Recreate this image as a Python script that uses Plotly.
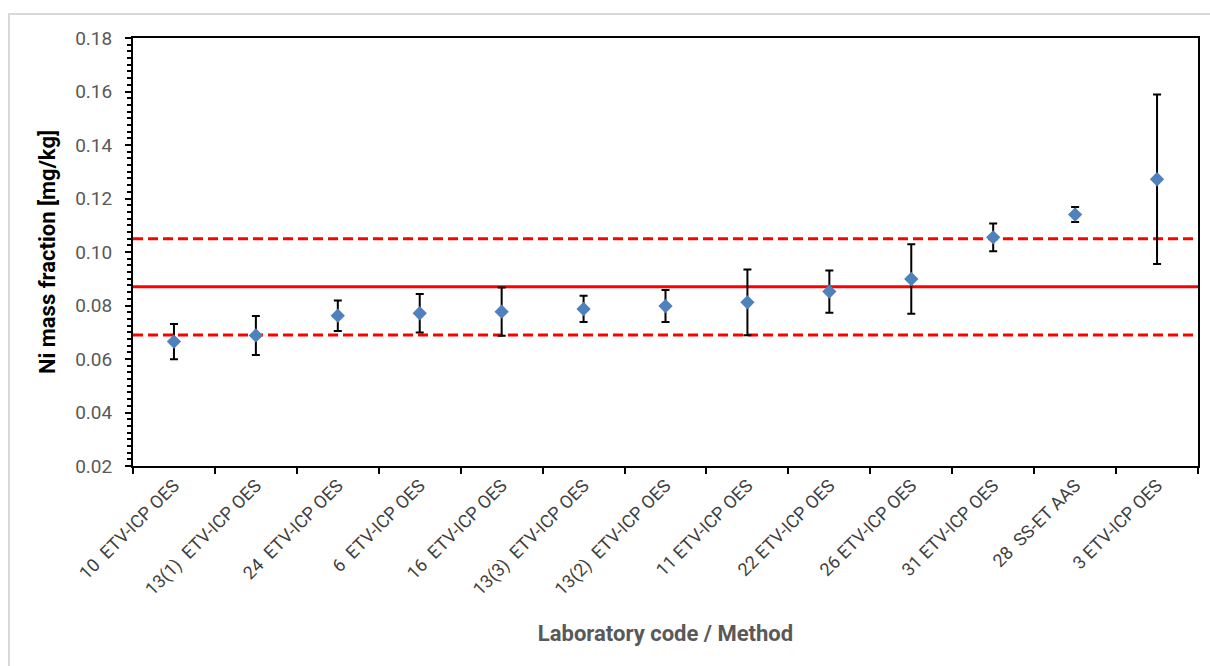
import plotly.graph_objects as go

# ---- data ----
labs = ["10\u00a0\u00a0ETV-ICP OES", "13(1)\u00a0\u00a0ETV-ICP OES", "24\u00a0\u00a0ETV-ICP OES",
        "6\u00a0\u00a0ETV-ICP OES", "16\u00a0\u00a0ETV-ICP OES", "13(3)\u00a0\u00a0ETV-ICP OES",
        "13(2)\u00a0\u00a0ETV-ICP OES", "11 ETV-ICP OES", "22 ETV-ICP OES", "26 ETV-ICP OES",
        "31 ETV-ICP OES", "28\u00a0\u00a0SS-ET AAS", "3 ETV-ICP OES"]
values = [0.0665, 0.0688, 0.0762, 0.0771, 0.0777, 0.0787, 0.0798,
          0.0812, 0.0852, 0.0899, 0.1055, 0.1140, 0.1272]
uncert = [0.0066, 0.0073, 0.0057, 0.0072, 0.0090, 0.0049, 0.0060,
          0.0123, 0.0079, 0.0130, 0.0052, 0.0028, 0.0317]
assigned = 0.087
limit_low = 0.069
limit_high = 0.105

y_range = [0.02, 0.18]
y_ticks = [0.02, 0.04, 0.06, 0.08, 0.10, 0.12, 0.14, 0.16, 0.18]

W, H = 1210, 666
L, R, T, B = 133, 12, 38, 200
pw, ph = W - L - R, H - T - B

def px_x(p):
    return (p - L) / pw

def px_y(p):
    return (H - B - p) / ph

fig = go.Figure()

fig.add_trace(go.Scatter(
    x=labs, y=values, mode="markers",
    marker=dict(symbol="diamond", size=11, color="#4F81BD"),
    error_y=dict(type="data", array=uncert, visible=True, color="black",
                 thickness=2, width=4),
    showlegend=False,
))

# reference lines
for yv, dash in [(assigned, "solid"), (limit_low, "10px,5px"), (limit_high, "10px,5px")]:
    fig.add_shape(type="line", xref="paper", x0=0, x1=1, yref="y", y0=yv, y1=yv,
                  line=dict(color="#FF0000", width=3, dash=dash), layer="below")

# outer chart border
fig.add_shape(type="rect", xref="paper", yref="paper",
              x0=px_x(9), x1=px_x(1240), y0=px_y(14), y1=px_y(700),
              line=dict(color="#D9D9D9", width=2), layer="below")

font_fam = "Roboto, 'Open Sans', sans-serif"

fig.update_layout(
    width=W, height=H,
    margin=dict(l=L, r=R, t=T, b=B, autoexpand=False),
    paper_bgcolor="white", plot_bgcolor="white",
    font=dict(family=font_fam, color="#595959"),
    xaxis=dict(
        type="category", range=[-0.5, len(labs) - 0.5],
        tickson="boundaries", ticks="outside", ticklen=6,
        tickwidth=2, tickcolor="black", tickangle=-45,
        tickfont=dict(size=18, color="#404040"),
        showline=True, linecolor="black", linewidth=2, mirror=True,
        showgrid=False, zeroline=False, automargin=False,
        title=dict(text="<b>Laboratory code / Method</b>",
                   font=dict(size=22, color="#595959"), standoff=27),
    ),
    yaxis=dict(
        range=y_range, tickvals=y_ticks, ticktext=[f"{v:.2f}" for v in y_ticks],
        ticks="outside", ticklen=6, tickwidth=2, tickcolor="black",
        tickfont=dict(size=19, color="#595959"), ticklabelstandoff=9,
        minor=dict(dtick=0.0025, ticks="outside", ticklen=4, tickwidth=2,
                   tickcolor="black", showgrid=False),
        showline=True, linecolor="black", linewidth=2, mirror=True,
        showgrid=False, zeroline=False, automargin=False,
        title=dict(text="<b>Ni mass fraction [mg/kg]</b>",
                   font=dict(size=22, color="black"), standoff=13),
    ),
)

fig.write_html("out.html")
